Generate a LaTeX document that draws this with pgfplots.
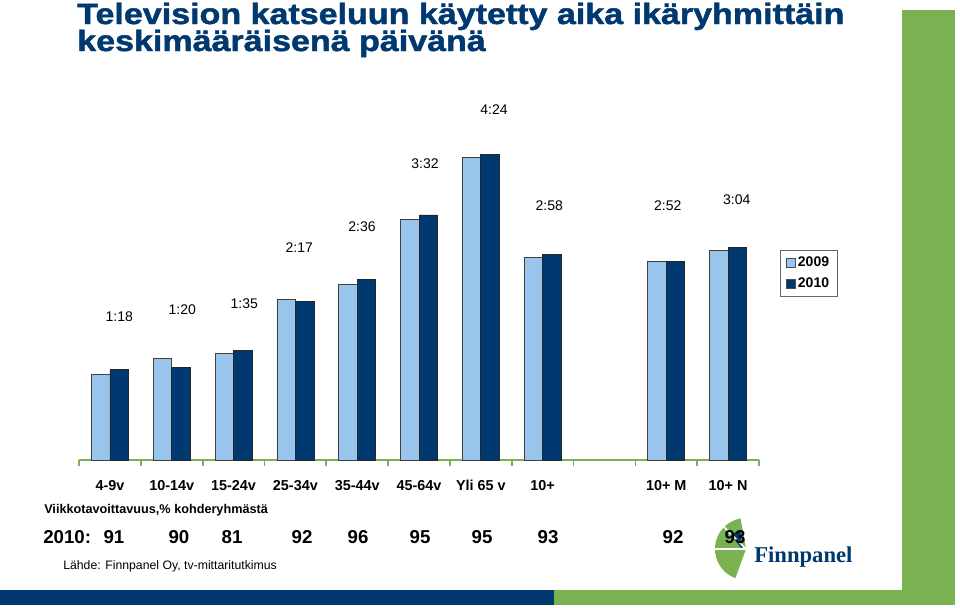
\documentclass[border=0pt]{standalone}
\usepackage{pgfplots}
\pgfplotsset{compat=1.18}
\usepackage{fontspec}
\setmainfont{Liberation Sans}
\newfontfamily\titlefont[FakeStretch=1.16,BoldFeatures={FakeBold=1.6}]{Liberation Sans}
\newfontfamily\logofont{Liberation Serif}
\definecolor{navy}{RGB}{0,56,112}
\definecolor{lblue}{RGB}{153,196,236}
\definecolor{fgreen}{RGB}{122,178,82}
\begin{document}
\begin{tikzpicture}
\begin{scope}[x=0.75pt,y=-0.75pt]
\path[use as bounding box] (0,0) rectangle (960,607);
% decorative frame bars
\fill[fgreen] (902,10) rectangle (955,605);
\fill[fgreen] (554,590) rectangle (955,605);
\fill[navy] (0,590) rectangle (554,605);
\fill[white] (0,0) rectangle (902,590);
% title
\node[anchor=base west, inner sep=0pt, text=navy, font=\titlefont\bfseries\fontsize{22}{23}\selectfont] at (77,24) {Television katseluun käytetty aika ikäryhmittäin};
\node[anchor=base west, inner sep=0pt, text=navy, font=\titlefont\bfseries\fontsize{22}{23}\selectfont] at (77,51) {keskimääräisenä päivänä};
\end{scope}

\begin{axis}[
  at={(59.25pt,-345pt)}, anchor=south west,
  scale only axis, width=510pt, height=277.5pt,
  xmin=-0.5, xmax=10.5, ymin=0, ymax=320,
  axis y line=none, axis x line*=bottom,
  x axis line style={draw=fgreen, line width=2pt},
  ybar=0pt, bar width=13.9pt,
  xtick={-0.5,0.5,...,10.5}, xticklabels={},
  tick align=outside,
  major tick length=4.5pt,
  x tick style={draw=fgreen, line width=1.3pt},
  extra x ticks={0,1,2,3,4,5,6,7,9,10},
  extra x tick labels={4-9v,10-14v,15-24v,25-34v,35-44v,45-64v,Yli 65 v,10+,10+ M,10+ N},
  extra x tick style={major tick length=0pt, x tick style={draw=none},
    xticklabel style={font=\bfseries\fontsize{10.8}{12}\selectfont, anchor=base, yshift=-22.5pt}},
  legend style={at={(1.031,0.568)}, anchor=north west, draw=black!60, line width=0.6pt,
    font=\bfseries\fontsize{10.5}{12}\selectfont, legend cell align=left,
    inner xsep=4pt, inner ysep=3pt, row sep=3pt},
  legend image code/.code={\draw[#1,draw=black!70,line width=0.5pt] (0pt,-3.3pt) rectangle (6.6pt,3.3pt);},
]
\addplot[fill=lblue, draw=black!75, line width=0.5pt] coordinates {
 (0,74) (1,88) (2,92) (3,139) (4,152) (5,208) (6,262) (7,175) (9,172) (10,181)};
\addplot[fill=navy, draw=black!85, line width=0.5pt] coordinates {
 (0,78) (1,80) (2,95) (3,137) (4,156) (5,212) (6,264) (7,178) (9,172) (10,184)};
\legend{2009,2010}
\end{axis}

\begin{scope}[x=0.75pt,y=-0.75pt]
% value labels (2010)
\begin{scope}[every node/.style={font=\fontsize{10.5}{12}\selectfont, inner sep=0pt}]
\node at (119.3,316.7) {1:18};
\node at (182.3,310) {1:20};
\node at (244.3,303.3) {1:35};
\node at (299.3,247.3) {2:17};
\node at (362,226.7) {2:36};
\node at (425,164) {3:32};
\node at (494,109.3) {4:24};
\node at (549.3,205.7) {2:58};
\node at (667.7,205.7) {2:52};
\node at (736.7,199.3) {3:04};
\end{scope}
% reach text
\node[anchor=base west, inner sep=0pt, font=\bfseries\fontsize{9.5}{11}\selectfont] at (44,513) {Viikkotavoittavuus,\% kohderyhmästä};
% logo (visual angles negated because y is inverted)
\fill[fgreen] (746,549) -- ++(-100:31) arc[start angle=-100, end angle=-250, radius=31] -- cycle;
\fill[navy] (742,549) -- ++(-95:18) arc[start angle=-95, end angle=-128, radius=18] -- cycle;
\draw[white, line width=1.2pt] (746,549) -- ++(-180:33);
\draw[white, line width=1.2pt] (746,549) -- ++(-135:33);
\node[anchor=base west, inner sep=0pt, text=navy, font=\logofont\bfseries\fontsize{17}{18}\selectfont] at (754,562) {Finnpanel};
\begin{scope}[every node/.style={font=\bfseries\fontsize{14}{16}\selectfont, inner sep=0pt}]
\node[anchor=west] at (43,537) {2010:};
\node at (114,537) {91};
\node at (179,537) {90};
\node at (232,537) {81};
\node at (302,537) {92};
\node at (358,537) {96};
\node at (420,537) {95};
\node at (482,537) {95};
\node at (548,537) {93};
\node at (673,537) {92};
\node at (735,537) {93};
\end{scope}
\node[anchor=base west, inner sep=0pt, font=\fontsize{9.2}{11}\selectfont] at (63,569) {Lähde: Finnpanel Oy, tv-mittaritutkimus};
\end{scope}
\end{tikzpicture}
\end{document}
